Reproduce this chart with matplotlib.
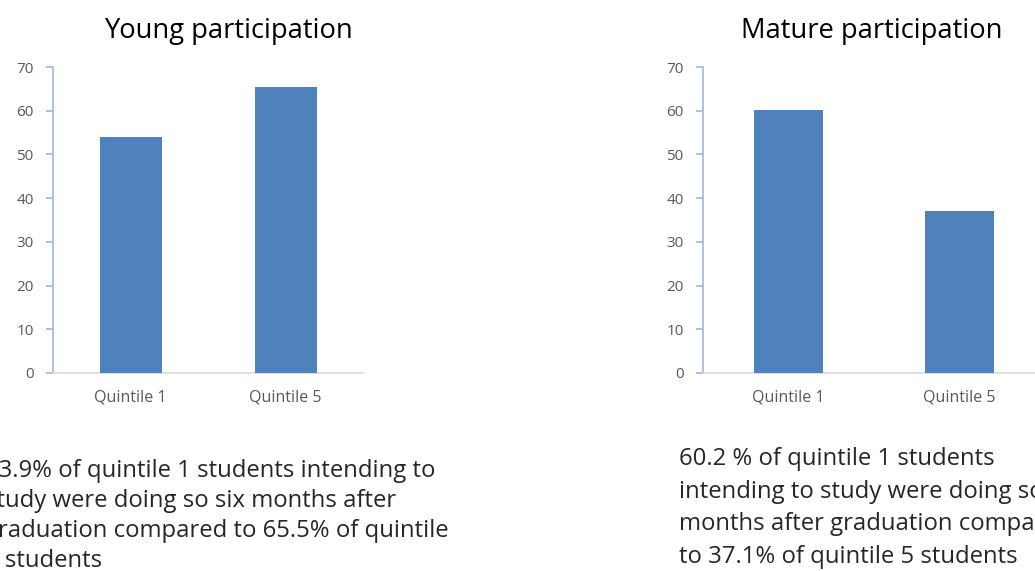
import matplotlib
matplotlib.use("Agg")
import matplotlib.pyplot as plt

categories = ["Quintile 1", "Quintile 5"]
young_values = [53.9, 65.5]
mature_values = [60.2, 37.1]
yticks = [0, 10, 20, 30, 40, 50, 60, 70]
titles = ["Young participation", "Mature participation"]
caption_young = [
    "53.9% of quintile 1 students intending to",
    "study were doing so six months after",
    "graduation compared to 65.5% of quintile",
    "5 students",
]
caption_mature = [
    "60.2 % of quintile 1 students",
    "intending to study were doing so six",
    "months after graduation compared",
    "to 37.1% of quintile 5 students",
]

W, H = 1035, 571
plt.rcParams['font.family'] = ['Open Sans', 'DejaVu Sans']
fig = plt.figure(figsize=(W / 100, H / 100), dpi=100)
fig.patch.set_facecolor("white")

BAR = "#4F81BD"
TICKC = "#595959"

def px_axes(x0, x1, ytop, ybot):
    return [x0 / W, (H - ybot) / H, (x1 - x0) / W, (ybot - ytop) / H]

axes_specs = [px_axes(53, 363, 67, 373), px_axes(703, 1045, 67, 373)]
values = [young_values, mature_values]

for spec, vals in zip(axes_specs, values):
    ax = fig.add_axes(spec)
    x = list(range(len(categories)))
    ax.bar(x, vals, width=0.4, color=BAR, zorder=3)
    ax.set_xlim(-0.5, len(categories) - 0.5)
    ax.set_ylim(0, 70)
    ax.set_yticks(yticks)
    ax.set_xticks(x)
    ax.set_xticklabels(categories)
    for s in ["top", "right"]:
        ax.spines[s].set_visible(False)
    ax.spines["left"].set_color("#9DB9E0")
    ax.spines["left"].set_linewidth(1.2)
    ax.spines["bottom"].set_color("#D9D9D9")
    ax.spines["bottom"].set_linewidth(1.2)
    ax.tick_params(axis="y", direction="out", length=5, width=1.2, color="#9DB9E0",
                   labelsize=11, labelcolor=TICKC, pad=9)
    ax.tick_params(axis="x", length=0, labelsize=11.5, labelcolor=TICKC, pad=12)

# titles
fig.text(228 / W, 1 - 38 / H, titles[0], ha="center", va="baseline", fontsize=19.7, color="black")
fig.text(872 / W, 1 - 38 / H, titles[1], ha="center", va="baseline", fontsize=19.7, color="black")

# captions
for i, line in enumerate(caption_young):
    fig.text(-15 / W, 1 - (477 + 30 * i) / H, line, ha="left", va="baseline",
             fontsize=17.2, color="#262626")
for i, line in enumerate(caption_mature):
    fig.text(679 / W, 1 - (465 + 32.7 * i) / H, line, ha="left", va="baseline",
             fontsize=17.2, color="#262626")

fig.savefig("out.png", dpi=100, facecolor="white")
